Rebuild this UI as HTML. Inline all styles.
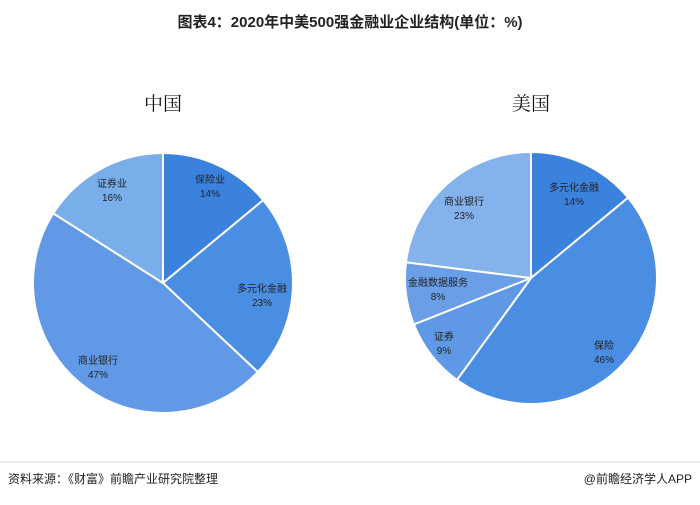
<!DOCTYPE html>
<html><head><meta charset="utf-8"><style>
body{margin:0;width:700px;height:500px;background:#fff;overflow:hidden;font-family:"Liberation Sans","Noto Sans CJK SC",sans-serif}
</style></head><body>
<svg id="s" width="700" height="500" xmlns="http://www.w3.org/2000/svg" font-family="Liberation Sans, Noto Sans CJK SC, sans-serif">
<text x="350" y="27" text-anchor="middle" font-size="15" font-weight="bold" fill="#222">图表4：2020年中美500强金融业企业结构(单位：%)</text>
<text x="163" y="110" text-anchor="middle" font-size="19" fill="#111" font-family="Noto Serif CJK SC, serif">中国</text>
<text x="531" y="110" text-anchor="middle" font-size="19" fill="#111" font-family="Noto Serif CJK SC, serif">美国</text>
<g id="p"></g>
<g font-size="10" fill="#222" text-anchor="middle">
<text x="210" y="183">保险业</text><text x="210" y="197">14%</text>
<text x="262" y="292">多元化金融</text><text x="262" y="306">23%</text>
<text x="98" y="364">商业银行</text><text x="98" y="378">47%</text>
<text x="112" y="187">证券业</text><text x="112" y="201">16%</text>
<text x="574" y="191">多元化金融</text><text x="574" y="205">14%</text>
<text x="604" y="349">保险</text><text x="604" y="363">46%</text>
<text x="444" y="340">证券</text><text x="444" y="354">9%</text>
<text x="438" y="286">金融数据服务</text><text x="438" y="300">8%</text>
<text x="464" y="205">商业银行</text><text x="464" y="219">23%</text>
</g>
<line x1="0" y1="462" x2="700" y2="462" stroke="#ddd" stroke-width="1"/>
<text x="8" y="483" font-size="12" fill="#222">资料来源：《财富》前瞻产业研究院整理</text>
<text x="692" y="483" font-size="12" fill="#222" text-anchor="end">@前瞻经济学人APP</text>
</svg>
<script>
function pie(cx,cy,r,vals,cols){var g=document.getElementById('p'),a=-Math.PI/2,tot=vals.reduce((x,y)=>x+y,0),h='';
vals.forEach(function(v,i){var b=a+v/tot*2*Math.PI,x1=cx+r*Math.cos(a),y1=cy+r*Math.sin(a),x2=cx+r*Math.cos(b),y2=cy+r*Math.sin(b);
h+='<path d="M'+cx+','+cy+'L'+x1+','+y1+'A'+r+','+r+' 0 '+(b-a>Math.PI?1:0)+' 1 '+x2+','+y2+'Z" fill="'+cols[i]+'" stroke="#fff" stroke-width="2"/>';a=b;});
g.innerHTML+=h;}
pie(163,283,130,[14,23,47,16],['#3b82de','#4a8ee3','#6199e6','#7aaeea']);
pie(531,278,126,[14,46,9,8,23],['#3b82de','#4a8ee3','#5f98e5','#6a9fe7','#84b2ec']);
</script>
</body></html>
